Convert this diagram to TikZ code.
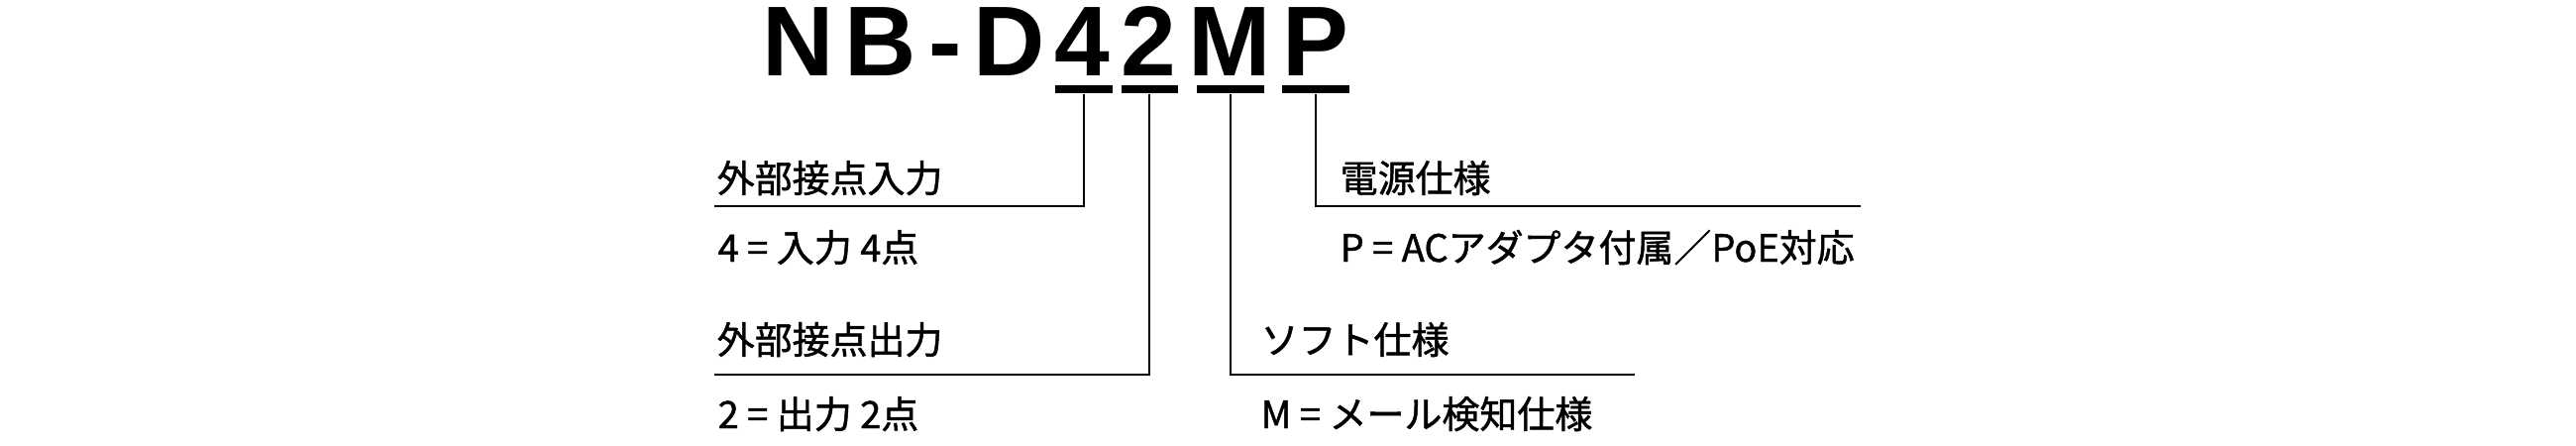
\documentclass[tikz,border=0pt]{standalone}
\usepackage{fontspec}
\setmainfont{Noto Sans CJK JP}[FakeBold=1.2]
\newfontfamily\codefont{Liberation Sans}
\usepackage{tikz}

\begin{document}
\begin{tikzpicture}[x=0.1mm, y=-0.1mm,
    code/.style={anchor=base, inner sep=0pt, font=\codefont\bfseries\fontsize{28.5}{34}\selectfont},
    bar/.style={fill=black, inner sep=0pt, minimum height=0.8mm},
    label/.style={anchor=base west, inner sep=0pt, font=\fontsize{10.8}{13}\selectfont},
    lead/.style={line width=0.2mm}]
    \useasboundingbox (0,0) rectangle (2600,450);
    % model number
    \node [code](cN) at (806,76) {N};
    \node [code](cB) at (889,76) {B};
    \node [code](cDash) at (954,76) {-};
    \node [code](cD) at (1019,76) {D};
    \node [code](c4) at (1092,76) {4};
    \node [code](c2) at (1159,76) {2};
    \node [code](cM) at (1241,76) {M};
    \node [code](cP) at (1328,76) {P};
    % bars under the option letters
    \node [bar, minimum width=5.8mm](b4) at (1094,90) {};
    \node [bar, minimum width=5.7mm](b2) at (1160,90) {};
    \node [bar, minimum width=6.8mm](bM) at (1242,90) {};
    \node [bar, minimum width=6.8mm](bP) at (1328,90) {};
    % labels
    \node [label](inHead) at (723,194) {外部接点入力};
    \node [label](inVal) at (724,264) {4 = 入力 4点};
    \node [label](outHead) at (723,357) {外部接点出力};
    \node [label](outVal) at (724,432) {2 = 出力 2点};
    \node [label](powHead) at (1352,194) {電源仕様};
    \node [label](powVal) at (1352,264) {P = ACアダプタ付属／PoE対応};
    \node [label](softHead) at (1272,357) {ソフト仕様};
    \node [label](softVal) at (1272,432) {M = メール検知仕様};
    % leader lines
    \coordinate (inEnd) at (721,208);
    \coordinate (outEnd) at (721,378);
    \coordinate (softEnd) at (1650,378);
    \coordinate (powEnd) at (1878,208);
    \draw [lead] (b4.south) |- (inEnd);
    \draw [lead] (b2.south) |- (outEnd);
    \draw [lead] (bM.south) |- (softEnd);
    \draw [lead] (bP.south) |- (powEnd);
\end{tikzpicture}
\end{document}
